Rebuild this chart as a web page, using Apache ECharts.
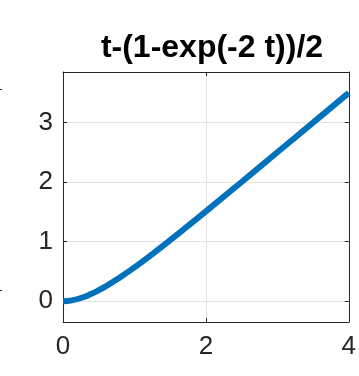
<!DOCTYPE html>
<html>
<head>
<meta charset="utf-8">
<script src="https://cdn.jsdelivr.net/npm/echarts@6/dist/echarts.min.js"></script>
<style>
  html, body { margin: 0; padding: 0; background: #fff; }
  #chart { width: 359px; height: 376px; }
</style>
</head>
<body>
<div id="chart"></div>
<script>
// values
const tValues = [0, 0.125, 0.25, 0.375, 0.5, 0.625, 0.75, 1, 1.25, 1.5, 1.75, 2, 2.5, 3, 3.5, 4];
const yValues = [0, 0.014, 0.053, 0.111, 0.184, 0.268, 0.362, 0.568, 0.791, 1.025, 1.265, 1.509, 2.003, 2.501, 3.0, 3.5];
const xTicks = [0, 2, 4];
const yTicks = [0, 1, 2, 3];

const chart = echarts.init(document.getElementById('chart'));
const axisColor = '#262626';
const labelFont = {
  fontFamily: 'Liberation Sans, Arial, sans-serif',
  fontSize: 26,
  color: axisColor
};

const option = {
  animation: false,
  title: {
    text: 't-(1-exp(-2 t))/2',
    left: 207,
    top: 27,
    textAlign: 'center',
    textStyle: {
      fontFamily: 'Liberation Sans, Arial, sans-serif',
      fontSize: 32,
      fontWeight: 'bold',
      color: '#000'
    }
  },
  // stray tick fragments from the neighbouring panel at the left edge
  graphic: [
    { type: 'line', shape: { x1: 0, y1: 89.5, x2: 2, y2: 89.5 }, style: { stroke: axisColor, lineWidth: 1 } },
    { type: 'line', shape: { x1: 0, y1: 290.5, x2: 2, y2: 290.5 }, style: { stroke: axisColor, lineWidth: 1 } }
  ],
  grid: {
    left: 63,
    right: 8,
    top: 72,
    bottom: 54
  },
  xAxis: [
    {
      type: 'value',
      min: 0,
      max: 4,
      interval: 2,
      axisLine: { show: true, onZero: false, lineStyle: { color: axisColor, width: 1 } },
      axisTick: { show: true, inside: true, length: 4, lineStyle: { color: axisColor } },
      axisLabel: { ...labelFont, margin: 12, customValues: xTicks },
      splitLine: { show: true, lineStyle: { color: '#e3e3e3', width: 1 } }
    },
    {
      type: 'value',
      position: 'top',
      min: 0,
      max: 4,
      interval: 2,
      axisLine: { show: true, onZero: false, lineStyle: { color: axisColor, width: 1 } },
      axisTick: { show: true, inside: true, length: 4, lineStyle: { color: axisColor } },
      axisLabel: { show: false },
      splitLine: { show: false }
    }
  ],
  yAxis: [
    {
      type: 'value',
      min: -0.35,
      max: 3.85,
      axisLine: { show: true, onZero: false, lineStyle: { color: axisColor, width: 1 } },
      axisTick: { show: true, inside: true, length: 4, customValues: yTicks, lineStyle: { color: axisColor } },
      axisLabel: { ...labelFont, margin: 10, customValues: yTicks },
      splitLine: { show: true, lineStyle: { color: '#e3e3e3', width: 1 } }
    },
    {
      type: 'value',
      position: 'right',
      min: -0.35,
      max: 3.85,
      axisLine: { show: true, onZero: false, lineStyle: { color: axisColor, width: 1 } },
      axisTick: { show: true, inside: true, length: 4, customValues: yTicks, lineStyle: { color: axisColor } },
      axisLabel: { show: false },
      splitLine: { show: false }
    }
  ],
  series: [
    {
      type: 'line',
      data: tValues.map((t, i) => [t, yValues[i]]),
      smooth: true,
      showSymbol: false,
      lineStyle: { color: '#0072BD', width: 6 },
      clip: true
    }
  ]
};
chart.setOption(option);
</script>
</body>
</html>
